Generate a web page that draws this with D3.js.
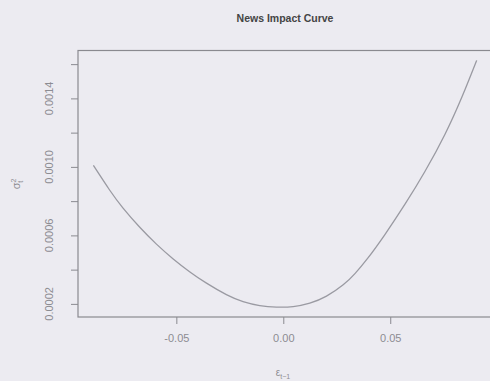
<!DOCTYPE html>
<html>
<head>
<meta charset="utf-8">
<script src="https://cdn.jsdelivr.net/npm/d3@7"></script>
<style>
  body { margin: 0; background: #ecebf1; }
  svg { display: block; font-family: "Liberation Sans", Arial, sans-serif; }
</style>
</head>
<body>
<div id="chart-area"></div>
<script>
/* News impact curve */

var shock = [-0.0888, -0.0812, -0.0750, -0.0672, -0.0593, -0.0516, -0.0438, -0.0359,
             -0.0266, -0.0188, -0.0110, -0.0032, 0.0046, 0.0124, 0.0202, 0.0280,
             0.0335, 0.0395, 0.0475, 0.0569, 0.0662, 0.0756, 0.0835, 0.0904];
var variance = [0.001009, 0.000865, 0.000761, 0.000649, 0.000549, 0.000464, 0.000388, 0.000321,
                0.000254, 0.000213, 0.000190, 0.000181, 0.000184, 0.000204, 0.000245, 0.000311,
                0.000377, 0.000467, 0.000605, 0.000782, 0.000973, 0.001191, 0.001408, 0.001622];
var xTicks = [-0.05, 0, 0.05];
var yTicks = [0.0002, 0.0004, 0.0006, 0.0008, 0.0010, 0.0012, 0.0014, 0.0016];
var yLabels = [0.0002, 0.0006, 0.0010, 0.0014];

var W = 490, H = 381;
var margin = { left: 78, right: -2, top: 50.5, bottom: 64 };
var width = W - margin.left - margin.right;
var height = H - margin.top - margin.bottom;

var data = shock.map(function(d, i) { return { e: d, s: variance[i] }; });

// R style 4% padding
function pad(ext) {
    var r = ext[1] - ext[0];
    return [ext[0] - 0.04 * r, ext[1] + 0.04 * r];
}

var x = d3.scaleLinear().domain(pad(d3.extent(shock))).range([0, width]);
var y = d3.scaleLinear().domain(pad(d3.extent(variance))).range([height, 0]);

var svg = d3.select("#chart-area")
    .append("svg")
    .attr("width", W)
    .attr("height", H);

var g = svg.append("g")
    .attr("transform", "translate(" + margin.left + "," + margin.top + ")");

var axisColor = "#8a8a90";
var textColor = "#8c8c92";

// box
g.append("rect")
    .attr("width", width)
    .attr("height", height)
    .attr("fill", "none")
    .attr("stroke", axisColor)
    .attr("stroke-width", 1.2);

// x axis
var xAxis = g.append("g")
    .attr("transform", "translate(0," + height + ")")
    .call(d3.axisBottom(x).tickValues(xTicks).tickSize(7).tickPadding(10));
xAxis.select(".domain").remove();
xAxis.selectAll("line").attr("stroke", axisColor);
xAxis.selectAll("text")
    .attr("fill", textColor)
    .style("font-size", "11px")
    .text(function(d) { return d3.format(".2f")(d).replace("−", "-"); });

// y axis
var yAxis = g.append("g")
    .call(d3.axisLeft(y).tickValues(yTicks).tickSize(7).tickFormat(""));
yAxis.select(".domain").remove();
yAxis.selectAll("line").attr("stroke", axisColor);

g.selectAll(".ylab")
    .data(yLabels)
    .enter()
    .append("text")
    .attr("class", "ylab")
    .attr("transform", function(d) {
        return "translate(" + (-25) + "," + y(d) + ") rotate(-90)";
    })
    .attr("text-anchor", "middle")
    .attr("fill", textColor)
    .style("font-size", "11px")
    .text(function(d) { return d.toFixed(4); });

// curve
var line = d3.line()
    .x(function(d) { return x(d.e); })
    .y(function(d) { return y(d.s); })
    .curve(d3.curveNatural);

g.append("path")
    .datum(data)
    .attr("d", line)
    .attr("fill", "none")
    .attr("stroke", "#9a9aa2")
    .attr("stroke-width", 1.3);

// title
svg.append("text")
    .attr("x", 285)
    .attr("y", 22)
    .attr("text-anchor", "middle")
    .attr("fill", "#444")
    .style("font-size", "10.5px")
    .style("font-weight", "bold")
    .text("News Impact Curve");

// axis titles
var xt = svg.append("text")
    .attr("x", 283)
    .attr("y", 376)
    .attr("text-anchor", "middle")
    .attr("fill", textColor)
    .style("font-size", "10px");
xt.append("tspan").text("ε");
xt.append("tspan").attr("dy", 3).style("font-size", "7px").text("t−1");

var yt = svg.append("text")
    .attr("transform", "translate(20,184) rotate(-90)")
    .attr("text-anchor", "middle")
    .attr("fill", textColor)
    .style("font-size", "11px");
yt.append("tspan").text("σ");
yt.append("tspan").attr("dy", -4).style("font-size", "7px").text("2");
yt.append("tspan").attr("dx", -4).attr("dy", 7).style("font-size", "7px").text("t");
</script>
</body>
</html>
